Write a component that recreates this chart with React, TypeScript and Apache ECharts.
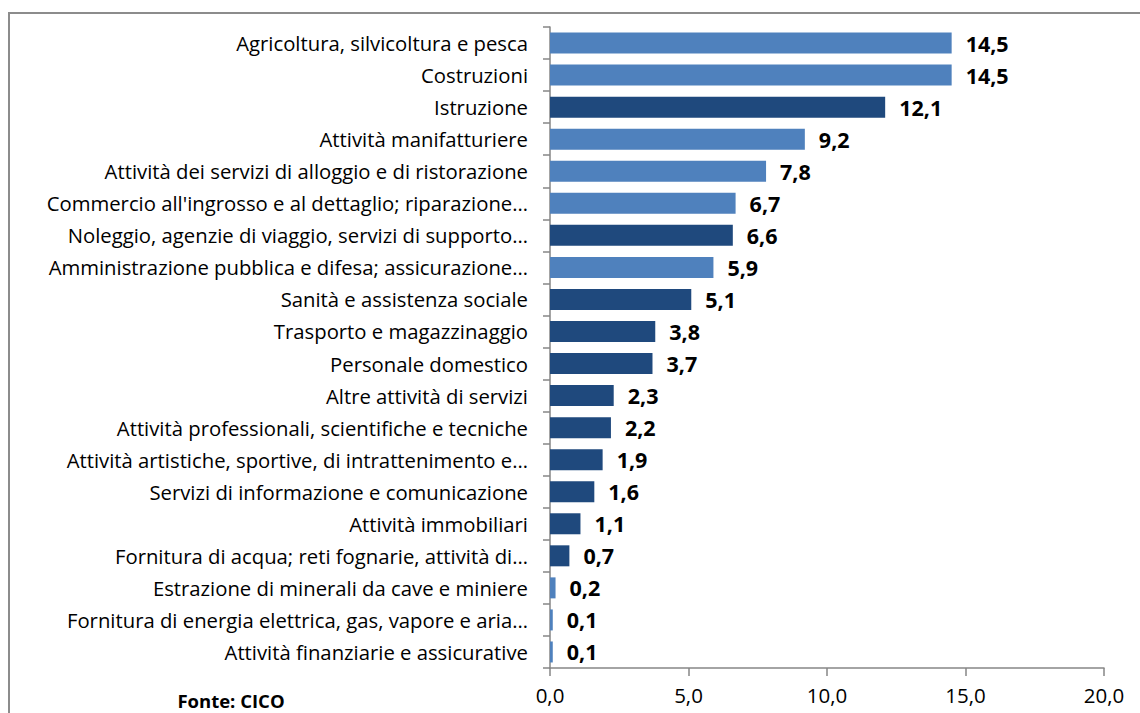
import React, { useEffect, useRef } from "react";
import * as echarts from "echarts";

const categories = [
  "Agricoltura, silvicoltura e pesca",
  "Costruzioni",
  "Istruzione",
  "Attività manifatturiere",
  "Attività dei servizi di alloggio e di ristorazione",
  "Commercio all'ingrosso e al dettaglio; riparazione…",
  "Noleggio, agenzie di viaggio, servizi di supporto…",
  "Amministrazione pubblica e difesa; assicurazione…",
  "Sanità e assistenza sociale",
  "Trasporto e magazzinaggio",
  "Personale domestico",
  "Altre attività di servizi",
  "Attività professionali, scientifiche e tecniche",
  "Attività artistiche, sportive, di intrattenimento e…",
  "Servizi di informazione e comunicazione",
  "Attività immobiliari",
  "Fornitura di acqua; reti fognarie, attività di…",
  "Estrazione di minerali da cave e miniere",
  "Fornitura di energia elettrica, gas, vapore e aria…",
  "Attività finanziarie e assicurative",
];

const values = [14.5, 14.5, 12.1, 9.2, 7.8, 6.7, 6.6, 5.9, 5.1, 3.8, 3.7, 2.3, 2.2, 1.9, 1.6, 1.1, 0.7, 0.2, 0.1, 0.1];

// group: "A" = light blue, "B" = dark blue
const groups = ["A", "A", "B", "A", "A", "A", "B", "A", "B", "B", "B", "B", "B", "B", "B", "B", "B", "A", "A", "A"];

const xTicks = [0, 5, 10, 15, 20];
const sourceText = "Fonte: CICO";

const fmt = (v: number) => v.toFixed(1).replace(".", ",");

export default function App() {
  const ref = useRef<HTMLDivElement>(null);
  useEffect(() => {
    if (!ref.current) return;
    const chart = echarts.init(ref.current, undefined, { renderer: "svg" });
    const font = "Open Sans";
    const colorMap: Record<string, string> = { A: "#4F81BD", B: "#1F497D" };
    chart.setOption({
      animation: false,
      backgroundColor: "#ffffff",
      grid: { left: 550, right: 36, top: 27, bottom: 45, containLabel: false },
      xAxis: {
        type: "value",
        min: xTicks[0],
        max: xTicks[xTicks.length - 1],
        interval: 5,
        splitLine: { show: false },
        axisLine: { show: true, lineStyle: { color: "#868686", width: 1.5 } },
        axisTick: { show: true, length: 8, lineStyle: { color: "#868686", width: 1.5 } },
        axisLabel: {
          formatter: (v: number) => fmt(v),
          fontFamily: font,
          fontSize: 20.5,
          color: "#000",
          margin: 16,
        },
      },
      yAxis: {
        type: "category",
        data: categories,
        inverse: true,
        axisLine: { show: true, lineStyle: { color: "#868686", width: 1.5 } },
        axisTick: { show: true, length: 7, lineStyle: { color: "#868686", width: 1.5 } },
        axisLabel: {
          fontFamily: font,
          fontSize: 20.3,
          color: "#000",
          margin: 22,
        },
      },
      series: [
        {
          type: "bar",
          barWidth: 21,
          data: values.map((v, i) => ({
            value: v,
            itemStyle: { color: colorMap[groups[i]] },
          })),
          label: {
            show: true,
            position: "right",
            distance: 14,
            formatter: (p: any) => fmt(p.value),
            fontFamily: font,
            fontWeight: "bold",
            fontSize: 21.5,
            color: "#000",
          },
        },
      ],
      graphic: [
        {
          type: "rect",
          shape: { x: 9, y: 13, width: 1200, height: 800 },
          style: { fill: "none", stroke: "#8c8c8c", lineWidth: 2 },
          silent: true,
        },
        {
          type: "text",
          x: 231,
          y: 700,
          style: {
            text: sourceText,
            fontFamily: font,
            fontWeight: "bold",
            fontSize: 18.5,
            fill: "#000",
            align: "center",
            verticalAlign: "middle",
          },
        },
      ],
    });
    return () => chart.dispose();
  }, []);
  return (
    <div
      ref={ref}
      style={{ position: "fixed", left: 0, top: 0, width: 1140, height: 713 }}
    />
  );
}
